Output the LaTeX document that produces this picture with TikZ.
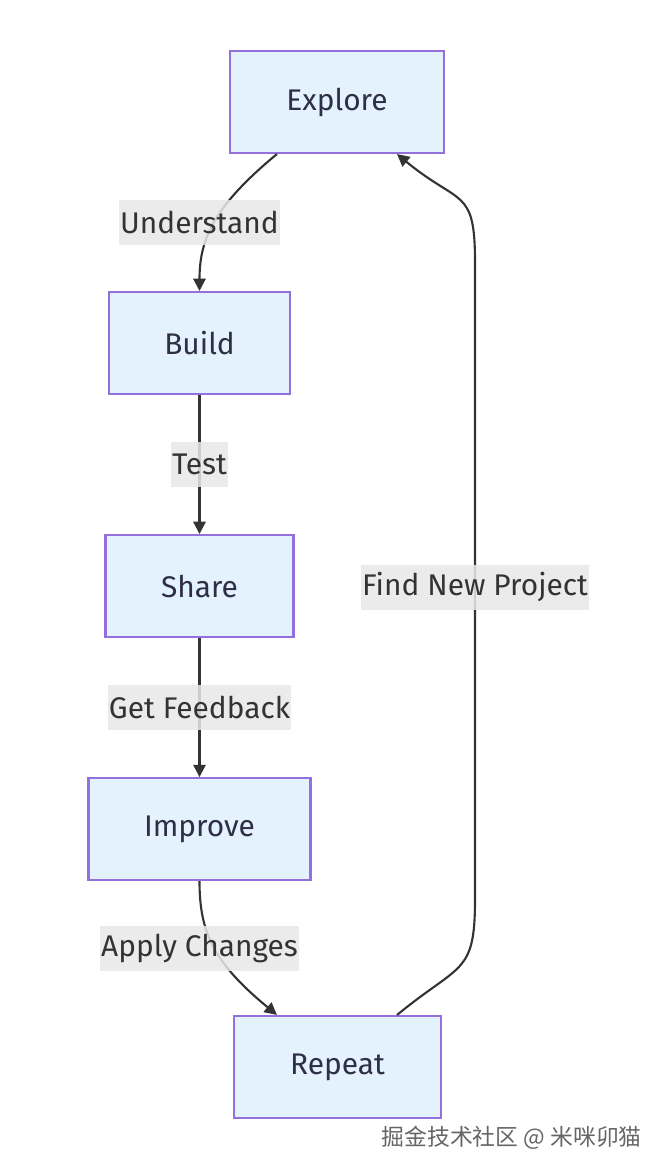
\documentclass[tikz,border=0pt]{standalone}
\usepackage{fontspec}
\setmainfont{Fira Sans}
\newfontfamily\cjkfont{Noto Sans CJK SC}
\usetikzlibrary{arrows.meta,positioning}
\definecolor{boxfill}{HTML}{E3F2FD}
\definecolor{boxline}{HTML}{9370DB}
\definecolor{ink}{HTML}{333333}
\definecolor{lblfill}{HTML}{E8E8E8}

\begin{document}
\begin{tikzpicture}[
  x=0.02cm,y=-0.02cm,
  node distance=2.78cm,
  stage/.style={draw=boxline,fill=boxfill,line width=1.2pt,minimum height=2.04cm,
    inner sep=2pt,font=\fontsize{17}{20}\selectfont,text=ink!90!blue},
  lbl/.style={fill=lblfill,fill opacity=0.85,text opacity=1,text=ink,
    inner xsep=0.5pt,minimum height=0.9cm,font=\fontsize{17}{20}\selectfont},
  arrow/.style={-{Triangle[length=7pt,width=7pt]},draw=ink,line width=1.2pt}
]
\useasboundingbox (0,0) rectangle (670,1174);
\node[stage,minimum width=4.28cm] (explore) at (337,102) {Explore};
\node[stage,minimum width=3.62cm] (build) at (199.5,343) {Build};
\node[stage,minimum width=3.76cm,below=of build] (share) {Share};
\node[stage,minimum width=4.44cm,below=of share] (improve) {Improve};
\node[stage,minimum width=4.14cm] (repeat) at (337.5,1067) {Repeat};

\draw[arrow] ([xshift=0.96cm]explore.south west)
  .. controls +(-63,52) and +(0,-52) .. (build.north);
\draw[arrow] (build) -- (share);
\draw[arrow] (share) -- (improve);
\draw[arrow] (improve.south)
  .. controls +(0,52) and +(-63,-52) .. ([xshift=0.88cm]repeat.north west);
% loop back on the right
\coordinate (loopb) at (475,900);
\coordinate (loopt) at (475,262);
\draw[arrow] ([xshift=-0.9cm]repeat.north east)
  .. controls +(63,-52) and +(0,75) .. (loopb) -- (loopt)
  .. controls +(0,-75) and +(63,52) .. ([xshift=-0.96cm]explore.south east);

\path (build.north) -- (build.north |- explore.south)
  node[lbl,midway] (l1) {Understand};
\path (build) -- (share) node[lbl,midway] (l2) {Test};
\path (share) -- (improve) node[lbl,midway] (l3) {Get Feedback};
\path (improve.south) -- (improve.south |- repeat.north)
  node[lbl,midway] (l4) {Apply Changes};
\path (loopb) -- (loopt) node[lbl,pos=0.49] (l5) {Find New Project};

\node[anchor=east,text=black!60,font=\cjkfont\fontsize{13}{15}\selectfont]
  (wm) at (648,1138) {掘金技术社区 @ 米咪卯猫};
\end{tikzpicture}
\end{document}
